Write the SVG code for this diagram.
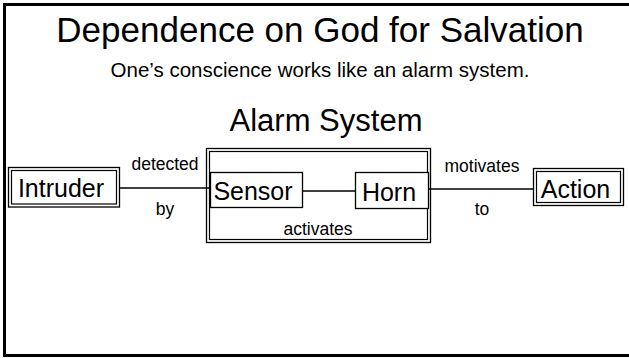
<svg xmlns="http://www.w3.org/2000/svg" width="629" height="358" viewBox="0 0 629 358">
<style>
text{font-family:"Liberation Sans",Arial,sans-serif;fill:#000;text-anchor:middle}
.box{fill:#fff;stroke:#000;stroke-width:1.3}
.inner{fill:none;stroke:#000;stroke-width:1.2}
.conn{stroke:#000;stroke-width:1.5;fill:none}
.lbl{font-size:17.5px}
.node{font-size:25px}
</style>
<rect x="4.5" y="4.5" width="640" height="351" fill="#fff" stroke="#000" stroke-width="3"/>
<text x="320" y="41.5" font-size="35">Dependence on God for Salvation</text>
<text x="320" y="76.5" font-size="20.5">One’s conscience works like an alarm system.</text>
<g id="alarm-system">
<rect class="box" x="206.5" y="148.5" width="224" height="94"/>
<rect class="inner" x="209.5" y="151.5" width="218" height="88"/>
<text x="326" y="131" font-size="31">Alarm System</text>
<text class="lbl" x="318" y="235">activates</text>
</g>
<g id="connectors">
<line class="conn" x1="120" y1="188" x2="210" y2="188"/>
<line class="conn" x1="302" y1="191" x2="355" y2="191"/>
<line class="conn" x1="429" y1="189" x2="533" y2="189"/>
<text class="lbl" x="165" y="170">detected</text>
<text class="lbl" x="165" y="215">by</text>
<text class="lbl" x="482" y="172">motivates</text>
<text class="lbl" x="482" y="215">to</text>
</g>
<g id="intruder">
<rect class="box" x="8.5" y="167.5" width="111" height="39.5"/>
<rect class="inner" x="11.5" y="170.5" width="105" height="33.5"/>
<text class="node" x="61" y="197" font-size="26">Intruder</text>
</g>
<g id="sensor">
<rect class="box" x="210.5" y="172.5" width="92" height="35" stroke-width="1.5"/>
<text class="node" x="253" y="200">Sensor</text>
</g>
<g id="horn">
<rect class="box" x="355.5" y="172.5" width="73" height="36" stroke-width="1.5"/>
<text class="node" x="389" y="201">Horn</text>
</g>
<g id="action">
<rect class="box" x="533.5" y="168.5" width="90" height="37"/>
<rect class="inner" x="536.5" y="171.5" width="84" height="31"/>
<text class="node" x="575.5" y="198">Action</text>
</g>
</svg>
